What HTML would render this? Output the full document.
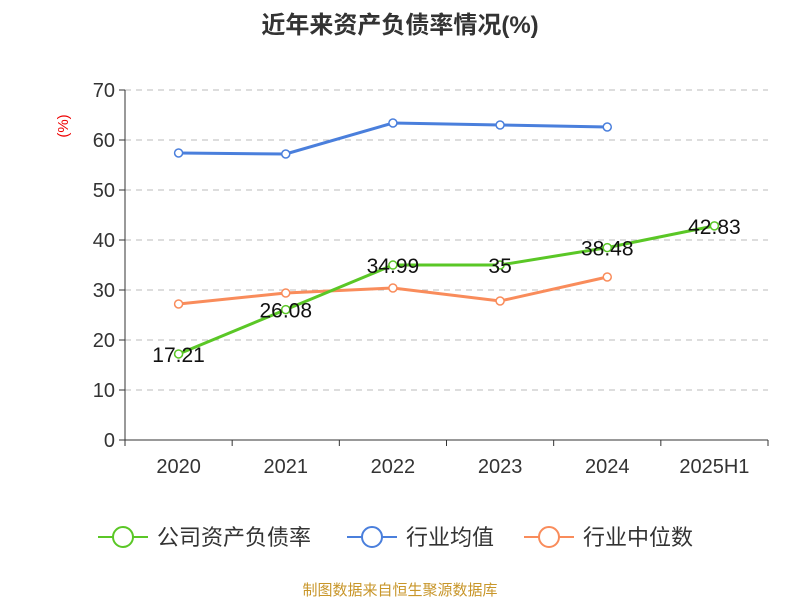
<!DOCTYPE html>
<html><head><meta charset="utf-8"><style>
body{margin:0;background:#fff;font-family:"Liberation Sans","Noto Sans CJK SC",sans-serif}
svg text{font-family:"Liberation Sans","Noto Sans CJK SC",sans-serif}
</style></head><body>
<svg id="c" width="800" height="600">
<text x="400" y="33" text-anchor="middle" font-size="24" font-weight="bold" fill="#333">近年来资产负债率情况(%)</text>
<text transform="translate(68,126) rotate(-90)" text-anchor="middle" font-size="15" fill="#e00">(%)</text>
<g id="grid"></g><g id="axes"></g><g id="series"></g>
<g>
<g><line x1="98" y1="537" x2="148" y2="537" stroke="#5ac726" stroke-width="2"/><circle cx="123" cy="537" r="10" fill="#fff" stroke="#5ac726" stroke-width="2"/><text x="157" y="545" font-size="22" fill="#333">公司资产负债率</text></g>
<g><line x1="347" y1="537" x2="397" y2="537" stroke="#4a7fdc" stroke-width="2"/><circle cx="372" cy="537" r="10" fill="#fff" stroke="#4a7fdc" stroke-width="2"/><text x="406" y="545" font-size="22" fill="#333">行业均值</text></g>
<g><line x1="524" y1="537" x2="574" y2="537" stroke="#f98c5b" stroke-width="2"/><circle cx="549" cy="537" r="10" fill="#fff" stroke="#f98c5b" stroke-width="2"/><text x="583" y="545" font-size="22" fill="#333">行业中位数</text></g>
</g>
<text x="400" y="595" text-anchor="middle" font-size="15" fill="#c8962a">制图数据来自恒生聚源数据库</text>
</svg>
<script>
const categories=["2020","2021","2022","2023","2024","2025H1"];
const company=[17.21,26.08,34.99,35,38.48,42.83];
const industryAvg=[57.4,57.2,63.4,63.0,62.6];
const industryMedian=[27.2,29.4,30.4,27.8,32.6];
const yTicks=[0,10,20,30,40,50,60,70];
const ns="http://www.w3.org/2000/svg";
const x0=125,x1=768,yb=440,yt=90,ymax=70;
const bw=(x1-x0)/categories.length;
const X=i=>x0+bw*(i+0.5);
const Y=v=>yb-(v/ymax)*(yb-yt);
function mk(t,a,p){const e=document.createElementNS(ns,t);for(const k in a)e.setAttribute(k,a[k]);p.appendChild(e);return e;}
const grid=document.getElementById('grid'),axes=document.getElementById('axes'),ser=document.getElementById('series');
yTicks.forEach(v=>{
 if(v>0){const g=mk('line',{x1:x0,x2:x1,y1:Y(v),y2:Y(v),stroke:'#bbb','stroke-dasharray':'6,5'},grid);
 }
 const tk=mk('line',{x1:x0-6,x2:x0,y1:Y(v),y2:Y(v),stroke:'#333'},axes);
 const t=mk('text',{x:x0-10,y:Y(v)+7,'text-anchor':'end','font-size':20,fill:'#333'},axes);t.textContent=v;
 
});
const ya=mk('line',{x1:x0,x2:x0,y1:yt,y2:yb,stroke:'#333'},axes);

const xa=mk('line',{x1:x0,x2:x1,y1:yb,y2:yb,stroke:'#333'},axes);

for(let i=0;i<=categories.length;i++)mk('line',{x1:x0+bw*i,x2:x0+bw*i,y1:yb,y2:yb+6,stroke:'#333'},axes);
categories.forEach((c,i)=>{const t=mk('text',{x:X(i),y:yb+33,'text-anchor':'middle','font-size':20,fill:'#333'},axes);t.textContent=c;
 });
function line(d,col,name,labels){
 const g=mk('g',{},ser);
 mk('polyline',{points:d.map((v,i)=>X(i)+','+Y(v)).join(' '),fill:'none',stroke:col,'stroke-width':3},g);
 d.forEach((v,i)=>{const p=mk('circle',{cx:X(i),cy:Y(v),r:4,fill:'#fff',stroke:col,'stroke-width':1.5},g);
  
  if(labels){const t=mk('text',{x:X(i),y:Y(v)+8,'text-anchor':'middle','font-size':21,fill:'#111'},g);t.textContent=v;
   }});
}
line(industryAvg,'#4a7fdc','industry-avg-line',false);
line(industryMedian,'#f98c5b','industry-median-line',false);
line(company,'#5ac726','company-line',true);
</script>
</body></html>
